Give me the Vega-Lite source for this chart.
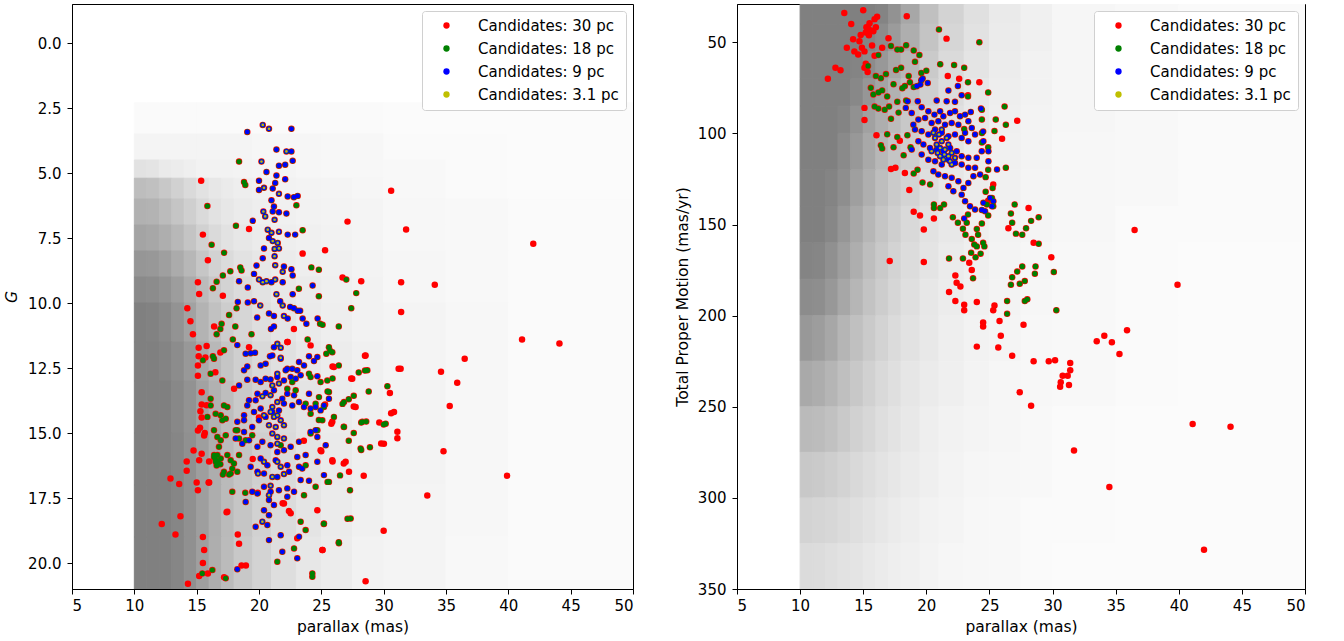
{
  "$schema": "https://vega.github.io/schema/vega-lite/v6.json",
  "padding": {"left": 4, "top": 3, "right": 0, "bottom": 0},
  "spacing": 40,
  "config": {
    "font": "DejaVu Sans",
    "view": {"stroke": "#000000", "strokeWidth": 1},
    "axis": {
      "grid": false,
      "labelFont": "DejaVu Sans",
      "titleFont": "DejaVu Sans",
      "labelFontSize": 15,
      "titleFontSize": 15.5,
      "titleFontWeight": "normal",
      "labelColor": "#000000",
      "titleColor": "#000000",
      "tickColor": "#000000",
      "domainColor": "#000000",
      "tickSize": 5,
      "labelPadding": 6
    },
    "axisX": {"labelPadding": 4, "titlePadding": 6},
    "axisY": {"titlePadding": 8},
    "legend": {"labelFont": "DejaVu Sans"}
  },
  "resolve": {"scale": {"color": "independent"}, "legend": {"color": "independent"}},
  "datasets": {
    "gbg": [
      {"p":10,"p2":11,"g":2.3,"g2":3.5,"v":0.04},{"p":11,"p2":12,"g":2.3,"g2":3.5,"v":0.04},{"p":12,"p2":13,"g":2.3,"g2":3.5,"v":0.04},{"p":13,"p2":14,"g":2.3,"g2":3.5,"v":0.04},{"p":14,"p2":15,"g":2.3,"g2":3.5,"v":0.04},{"p":15,"p2":16,"g":2.3,"g2":3.5,"v":0.04},{"p":16,"p2":17,"g":2.3,"g2":3.5,"v":0.04},{"p":17,"p2":18,"g":2.3,"g2":3.5,"v":0.04},{"p":18,"p2":19.5,"g":2.3,"g2":3.5,"v":0.04},{"p":19.5,"p2":21,"g":2.3,"g2":3.5,"v":0.04},{"p":21,"p2":23,"g":2.3,"g2":3.5,"v":0.04},{"p":23,"p2":25,"g":2.3,"g2":3.5,"v":0.04},{"p":25,"p2":27.5,"g":2.3,"g2":3.5,"v":0.04},{"p":27.5,"p2":30,"g":2.3,"g2":3.5,"v":0.04},{"p":30,"p2":35,"g":2.3,"g2":3.5,"v":0.03},{"p":35,"p2":40,"g":2.3,"g2":3.5,"v":0.03},{"p":40,"p2":50,"g":2.3,"g2":3.5,"v":0.03},
      {"p":10,"p2":11,"g":3.5,"g2":4.5,"v":0.08},{"p":11,"p2":12,"g":3.5,"g2":4.5,"v":0.08},{"p":12,"p2":13,"g":3.5,"g2":4.5,"v":0.08},{"p":13,"p2":14,"g":3.5,"g2":4.5,"v":0.08},{"p":14,"p2":15,"g":3.5,"g2":4.5,"v":0.08},{"p":15,"p2":16,"g":3.5,"g2":4.5,"v":0.08},{"p":16,"p2":17,"g":3.5,"g2":4.5,"v":0.08},{"p":17,"p2":18,"g":3.5,"g2":4.5,"v":0.08},{"p":18,"p2":19.5,"g":3.5,"g2":4.5,"v":0.08},{"p":19.5,"p2":21,"g":3.5,"g2":4.5,"v":0.07},{"p":21,"p2":23,"g":3.5,"g2":4.5,"v":0.07},{"p":23,"p2":25,"g":3.5,"g2":4.5,"v":0.07},{"p":25,"p2":27.5,"g":3.5,"g2":4.5,"v":0.06},{"p":27.5,"p2":30,"g":3.5,"g2":4.5,"v":0.06},{"p":30,"p2":35,"g":3.5,"g2":4.5,"v":0.04},{"p":35,"p2":40,"g":3.5,"g2":4.5,"v":0.04},{"p":40,"p2":50,"g":3.5,"g2":4.5,"v":0.03},
      {"p":10,"p2":11,"g":4.5,"g2":5.2,"v":0.22},{"p":11,"p2":12,"g":4.5,"g2":5.2,"v":0.2},{"p":12,"p2":13,"g":4.5,"g2":5.2,"v":0.16},{"p":13,"p2":14,"g":4.5,"g2":5.2,"v":0.14},{"p":14,"p2":15,"g":4.5,"g2":5.2,"v":0.12},{"p":15,"p2":16,"g":4.5,"g2":5.2,"v":0.1},{"p":16,"p2":17,"g":4.5,"g2":5.2,"v":0.1},{"p":17,"p2":18,"g":4.5,"g2":5.2,"v":0.1},{"p":18,"p2":19.5,"g":4.5,"g2":5.2,"v":0.09},{"p":19.5,"p2":21,"g":4.5,"g2":5.2,"v":0.08},{"p":21,"p2":23,"g":4.5,"g2":5.2,"v":0.08},{"p":23,"p2":25,"g":4.5,"g2":5.2,"v":0.07},{"p":25,"p2":27.5,"g":4.5,"g2":5.2,"v":0.06},{"p":27.5,"p2":30,"g":4.5,"g2":5.2,"v":0.06},{"p":30,"p2":35,"g":4.5,"g2":5.2,"v":0.05},{"p":35,"p2":40,"g":4.5,"g2":5.2,"v":0.04},{"p":40,"p2":50,"g":4.5,"g2":5.2,"v":0.03},
      {"p":10,"p2":11,"g":5.2,"g2":6,"v":0.5},{"p":11,"p2":12,"g":5.2,"g2":6,"v":0.48},{"p":12,"p2":13,"g":5.2,"g2":6,"v":0.42},{"p":13,"p2":14,"g":5.2,"g2":6,"v":0.35},{"p":14,"p2":15,"g":5.2,"g2":6,"v":0.28},{"p":15,"p2":16,"g":5.2,"g2":6,"v":0.22},{"p":16,"p2":17,"g":5.2,"g2":6,"v":0.18},{"p":17,"p2":18,"g":5.2,"g2":6,"v":0.15},{"p":18,"p2":19.5,"g":5.2,"g2":6,"v":0.13},{"p":19.5,"p2":21,"g":5.2,"g2":6,"v":0.11},{"p":21,"p2":23,"g":5.2,"g2":6,"v":0.1},{"p":23,"p2":25,"g":5.2,"g2":6,"v":0.09},{"p":25,"p2":27.5,"g":5.2,"g2":6,"v":0.08},{"p":27.5,"p2":30,"g":5.2,"g2":6,"v":0.07},{"p":30,"p2":35,"g":5.2,"g2":6,"v":0.05},{"p":35,"p2":40,"g":5.2,"g2":6,"v":0.04},{"p":40,"p2":50,"g":5.2,"g2":6,"v":0.03},
      {"p":10,"p2":11,"g":6,"g2":7,"v":0.6},{"p":11,"p2":12,"g":6,"g2":7,"v":0.58},{"p":12,"p2":13,"g":6,"g2":7,"v":0.52},{"p":13,"p2":14,"g":6,"g2":7,"v":0.44},{"p":14,"p2":15,"g":6,"g2":7,"v":0.36},{"p":15,"p2":16,"g":6,"g2":7,"v":0.28},{"p":16,"p2":17,"g":6,"g2":7,"v":0.22},{"p":17,"p2":18,"g":6,"g2":7,"v":0.18},{"p":18,"p2":19.5,"g":6,"g2":7,"v":0.15},{"p":19.5,"p2":21,"g":6,"g2":7,"v":0.13},{"p":21,"p2":23,"g":6,"g2":7,"v":0.11},{"p":23,"p2":25,"g":6,"g2":7,"v":0.1},{"p":25,"p2":27.5,"g":6,"g2":7,"v":0.09},{"p":27.5,"p2":30,"g":6,"g2":7,"v":0.08},{"p":30,"p2":35,"g":6,"g2":7,"v":0.06},{"p":35,"p2":40,"g":6,"g2":7,"v":0.05},{"p":40,"p2":50,"g":6,"g2":7,"v":0.04},
      {"p":10,"p2":11,"g":7,"g2":8,"v":0.7},{"p":11,"p2":12,"g":7,"g2":8,"v":0.68},{"p":12,"p2":13,"g":7,"g2":8,"v":0.62},{"p":13,"p2":14,"g":7,"g2":8,"v":0.54},{"p":14,"p2":15,"g":7,"g2":8,"v":0.45},{"p":15,"p2":16,"g":7,"g2":8,"v":0.35},{"p":16,"p2":17,"g":7,"g2":8,"v":0.28},{"p":17,"p2":18,"g":7,"g2":8,"v":0.22},{"p":18,"p2":19.5,"g":7,"g2":8,"v":0.18},{"p":19.5,"p2":21,"g":7,"g2":8,"v":0.15},{"p":21,"p2":23,"g":7,"g2":8,"v":0.13},{"p":23,"p2":25,"g":7,"g2":8,"v":0.11},{"p":25,"p2":27.5,"g":7,"g2":8,"v":0.1},{"p":27.5,"p2":30,"g":7,"g2":8,"v":0.08},{"p":30,"p2":35,"g":7,"g2":8,"v":0.06},{"p":35,"p2":40,"g":7,"g2":8,"v":0.05},{"p":40,"p2":50,"g":7,"g2":8,"v":0.04},
      {"p":10,"p2":11,"g":8,"g2":9,"v":0.82},{"p":11,"p2":12,"g":8,"g2":9,"v":0.8},{"p":12,"p2":13,"g":8,"g2":9,"v":0.74},{"p":13,"p2":14,"g":8,"g2":9,"v":0.65},{"p":14,"p2":15,"g":8,"g2":9,"v":0.55},{"p":15,"p2":16,"g":8,"g2":9,"v":0.43},{"p":16,"p2":17,"g":8,"g2":9,"v":0.34},{"p":17,"p2":18,"g":8,"g2":9,"v":0.27},{"p":18,"p2":19.5,"g":8,"g2":9,"v":0.22},{"p":19.5,"p2":21,"g":8,"g2":9,"v":0.18},{"p":21,"p2":23,"g":8,"g2":9,"v":0.15},{"p":23,"p2":25,"g":8,"g2":9,"v":0.13},{"p":25,"p2":27.5,"g":8,"g2":9,"v":0.11},{"p":27.5,"p2":30,"g":8,"g2":9,"v":0.09},{"p":30,"p2":35,"g":8,"g2":9,"v":0.07},{"p":35,"p2":40,"g":8,"g2":9,"v":0.05},{"p":40,"p2":50,"g":8,"g2":9,"v":0.04},
      {"p":10,"p2":11,"g":9,"g2":10,"v":0.92},{"p":11,"p2":12,"g":9,"g2":10,"v":0.9},{"p":12,"p2":13,"g":9,"g2":10,"v":0.85},{"p":13,"p2":14,"g":9,"g2":10,"v":0.76},{"p":14,"p2":15,"g":9,"g2":10,"v":0.65},{"p":15,"p2":16,"g":9,"g2":10,"v":0.52},{"p":16,"p2":17,"g":9,"g2":10,"v":0.42},{"p":17,"p2":18,"g":9,"g2":10,"v":0.33},{"p":18,"p2":19.5,"g":9,"g2":10,"v":0.27},{"p":19.5,"p2":21,"g":9,"g2":10,"v":0.22},{"p":21,"p2":23,"g":9,"g2":10,"v":0.18},{"p":23,"p2":25,"g":9,"g2":10,"v":0.15},{"p":25,"p2":27.5,"g":9,"g2":10,"v":0.12},{"p":27.5,"p2":30,"g":9,"g2":10,"v":0.1},{"p":30,"p2":35,"g":9,"g2":10,"v":0.07},{"p":35,"p2":40,"g":9,"g2":10,"v":0.05},{"p":40,"p2":50,"g":9,"g2":10,"v":0.04},
      {"p":10,"p2":11,"g":10,"g2":11.5,"v":1},{"p":11,"p2":12,"g":10,"g2":11.5,"v":0.98},{"p":12,"p2":13,"g":10,"g2":11.5,"v":0.93},{"p":13,"p2":14,"g":10,"g2":11.5,"v":0.84},{"p":14,"p2":15,"g":10,"g2":11.5,"v":0.72},{"p":15,"p2":16,"g":10,"g2":11.5,"v":0.58},{"p":16,"p2":17,"g":10,"g2":11.5,"v":0.47},{"p":17,"p2":18,"g":10,"g2":11.5,"v":0.38},{"p":18,"p2":19.5,"g":10,"g2":11.5,"v":0.31},{"p":19.5,"p2":21,"g":10,"g2":11.5,"v":0.25},{"p":21,"p2":23,"g":10,"g2":11.5,"v":0.2},{"p":23,"p2":25,"g":10,"g2":11.5,"v":0.16},{"p":25,"p2":27.5,"g":10,"g2":11.5,"v":0.13},{"p":27.5,"p2":30,"g":10,"g2":11.5,"v":0.1},{"p":30,"p2":35,"g":10,"g2":11.5,"v":0.08},{"p":35,"p2":40,"g":10,"g2":11.5,"v":0.06},{"p":40,"p2":50,"g":10,"g2":11.5,"v":0.04},
      {"p":10,"p2":11,"g":11.5,"g2":13,"v":1},{"p":11,"p2":12,"g":11.5,"g2":13,"v":1},{"p":12,"p2":13,"g":11.5,"g2":13,"v":0.97},{"p":13,"p2":14,"g":11.5,"g2":13,"v":0.9},{"p":14,"p2":15,"g":11.5,"g2":13,"v":0.8},{"p":15,"p2":16,"g":11.5,"g2":13,"v":0.66},{"p":16,"p2":17,"g":11.5,"g2":13,"v":0.54},{"p":17,"p2":18,"g":11.5,"g2":13,"v":0.44},{"p":18,"p2":19.5,"g":11.5,"g2":13,"v":0.36},{"p":19.5,"p2":21,"g":11.5,"g2":13,"v":0.29},{"p":21,"p2":23,"g":11.5,"g2":13,"v":0.23},{"p":23,"p2":25,"g":11.5,"g2":13,"v":0.18},{"p":25,"p2":27.5,"g":11.5,"g2":13,"v":0.14},{"p":27.5,"p2":30,"g":11.5,"g2":13,"v":0.11},{"p":30,"p2":35,"g":11.5,"g2":13,"v":0.08},{"p":35,"p2":40,"g":11.5,"g2":13,"v":0.06},{"p":40,"p2":50,"g":11.5,"g2":13,"v":0.04},
      {"p":10,"p2":11,"g":13,"g2":15,"v":1},{"p":11,"p2":12,"g":13,"g2":15,"v":1},{"p":12,"p2":13,"g":13,"g2":15,"v":1},{"p":13,"p2":14,"g":13,"g2":15,"v":0.93},{"p":14,"p2":15,"g":13,"g2":15,"v":0.85},{"p":15,"p2":16,"g":13,"g2":15,"v":0.72},{"p":16,"p2":17,"g":13,"g2":15,"v":0.6},{"p":17,"p2":18,"g":13,"g2":15,"v":0.5},{"p":18,"p2":19.5,"g":13,"g2":15,"v":0.41},{"p":19.5,"p2":21,"g":13,"g2":15,"v":0.33},{"p":21,"p2":23,"g":13,"g2":15,"v":0.26},{"p":23,"p2":25,"g":13,"g2":15,"v":0.2},{"p":25,"p2":27.5,"g":13,"g2":15,"v":0.15},{"p":27.5,"p2":30,"g":13,"g2":15,"v":0.12},{"p":30,"p2":35,"g":13,"g2":15,"v":0.09},{"p":35,"p2":40,"g":13,"g2":15,"v":0.06},{"p":40,"p2":50,"g":13,"g2":15,"v":0.04},
      {"p":10,"p2":11,"g":15,"g2":17,"v":1},{"p":11,"p2":12,"g":15,"g2":17,"v":1},{"p":12,"p2":13,"g":15,"g2":17,"v":1},{"p":13,"p2":14,"g":15,"g2":17,"v":0.95},{"p":14,"p2":15,"g":15,"g2":17,"v":0.87},{"p":15,"p2":16,"g":15,"g2":17,"v":0.75},{"p":16,"p2":17,"g":15,"g2":17,"v":0.63},{"p":17,"p2":18,"g":15,"g2":17,"v":0.53},{"p":18,"p2":19.5,"g":15,"g2":17,"v":0.44},{"p":19.5,"p2":21,"g":15,"g2":17,"v":0.36},{"p":21,"p2":23,"g":15,"g2":17,"v":0.28},{"p":23,"p2":25,"g":15,"g2":17,"v":0.21},{"p":25,"p2":27.5,"g":15,"g2":17,"v":0.16},{"p":27.5,"p2":30,"g":15,"g2":17,"v":0.12},{"p":30,"p2":35,"g":15,"g2":17,"v":0.09},{"p":35,"p2":40,"g":15,"g2":17,"v":0.06},{"p":40,"p2":50,"g":15,"g2":17,"v":0.04},
      {"p":10,"p2":11,"g":17,"g2":19,"v":1},{"p":11,"p2":12,"g":17,"g2":19,"v":1},{"p":12,"p2":13,"g":17,"g2":19,"v":1},{"p":13,"p2":14,"g":17,"g2":19,"v":0.95},{"p":14,"p2":15,"g":17,"g2":19,"v":0.87},{"p":15,"p2":16,"g":17,"g2":19,"v":0.75},{"p":16,"p2":17,"g":17,"g2":19,"v":0.63},{"p":17,"p2":18,"g":17,"g2":19,"v":0.53},{"p":18,"p2":19.5,"g":17,"g2":19,"v":0.44},{"p":19.5,"p2":21,"g":17,"g2":19,"v":0.35},{"p":21,"p2":23,"g":17,"g2":19,"v":0.27},{"p":23,"p2":25,"g":17,"g2":19,"v":0.2},{"p":25,"p2":27.5,"g":17,"g2":19,"v":0.15},{"p":27.5,"p2":30,"g":17,"g2":19,"v":0.11},{"p":30,"p2":35,"g":17,"g2":19,"v":0.08},{"p":35,"p2":40,"g":17,"g2":19,"v":0.06},{"p":40,"p2":50,"g":17,"g2":19,"v":0.04},
      {"p":10,"p2":11,"g":19,"g2":21,"v":1},{"p":11,"p2":12,"g":19,"g2":21,"v":1},{"p":12,"p2":13,"g":19,"g2":21,"v":1},{"p":13,"p2":14,"g":19,"g2":21,"v":0.95},{"p":14,"p2":15,"g":19,"g2":21,"v":0.87},{"p":15,"p2":16,"g":19,"g2":21,"v":0.74},{"p":16,"p2":17,"g":19,"g2":21,"v":0.62},{"p":17,"p2":18,"g":19,"g2":21,"v":0.52},{"p":18,"p2":19.5,"g":19,"g2":21,"v":0.42},{"p":19.5,"p2":21,"g":19,"g2":21,"v":0.33},{"p":21,"p2":23,"g":19,"g2":21,"v":0.25},{"p":23,"p2":25,"g":19,"g2":21,"v":0.18},{"p":25,"p2":27.5,"g":19,"g2":21,"v":0.14},{"p":27.5,"p2":30,"g":19,"g2":21,"v":0.1},{"p":30,"p2":35,"g":19,"g2":21,"v":0.08},{"p":35,"p2":40,"g":19,"g2":21,"v":0.05},{"p":40,"p2":50,"g":19,"g2":21,"v":0.04}
    ],
    "mbg": [
      {"p":10,"p2":11,"m":29,"m2":40,"v":1},{"p":11,"p2":12,"m":29,"m2":40,"v":1},{"p":12,"p2":13,"m":29,"m2":40,"v":1},{"p":13,"p2":14,"m":29,"m2":40,"v":1},{"p":14,"p2":15,"m":29,"m2":40,"v":1},{"p":15,"p2":16,"m":29,"m2":40,"v":1},{"p":16,"p2":17,"m":29,"m2":40,"v":0.97},{"p":17,"p2":18,"m":29,"m2":40,"v":0.85},{"p":18,"p2":19.5,"m":29,"m2":40,"v":0.68},{"p":19.5,"p2":21,"m":29,"m2":40,"v":0.48},{"p":21,"p2":23,"m":29,"m2":40,"v":0.33},{"p":23,"p2":25,"m":29,"m2":40,"v":0.23},{"p":25,"p2":27.5,"m":29,"m2":40,"v":0.16},{"p":27.5,"p2":30,"m":29,"m2":40,"v":0.11},{"p":30,"p2":35,"m":29,"m2":40,"v":0.07},{"p":35,"p2":40,"m":29,"m2":40,"v":0.05},{"p":40,"p2":50,"m":29,"m2":40,"v":0.04},
      {"p":10,"p2":11,"m":40,"m2":55,"v":1},{"p":11,"p2":12,"m":40,"m2":55,"v":1},{"p":12,"p2":13,"m":40,"m2":55,"v":1},{"p":13,"p2":14,"m":40,"m2":55,"v":1},{"p":14,"p2":15,"m":40,"m2":55,"v":1},{"p":15,"p2":16,"m":40,"m2":55,"v":0.97},{"p":16,"p2":17,"m":40,"m2":55,"v":0.9},{"p":17,"p2":18,"m":40,"m2":55,"v":0.78},{"p":18,"p2":19.5,"m":40,"m2":55,"v":0.62},{"p":19.5,"p2":21,"m":40,"m2":55,"v":0.45},{"p":21,"p2":23,"m":40,"m2":55,"v":0.31},{"p":23,"p2":25,"m":40,"m2":55,"v":0.22},{"p":25,"p2":27.5,"m":40,"m2":55,"v":0.15},{"p":27.5,"p2":30,"m":40,"m2":55,"v":0.11},{"p":30,"p2":35,"m":40,"m2":55,"v":0.07},{"p":35,"p2":40,"m":40,"m2":55,"v":0.05},{"p":40,"p2":50,"m":40,"m2":55,"v":0.04},
      {"p":10,"p2":11,"m":55,"m2":70,"v":1},{"p":11,"p2":12,"m":55,"m2":70,"v":1},{"p":12,"p2":13,"m":55,"m2":70,"v":1},{"p":13,"p2":14,"m":55,"m2":70,"v":1},{"p":14,"p2":15,"m":55,"m2":70,"v":0.97},{"p":15,"p2":16,"m":55,"m2":70,"v":0.9},{"p":16,"p2":17,"m":55,"m2":70,"v":0.8},{"p":17,"p2":18,"m":55,"m2":70,"v":0.68},{"p":18,"p2":19.5,"m":55,"m2":70,"v":0.55},{"p":19.5,"p2":21,"m":55,"m2":70,"v":0.4},{"p":21,"p2":23,"m":55,"m2":70,"v":0.28},{"p":23,"p2":25,"m":55,"m2":70,"v":0.2},{"p":25,"p2":27.5,"m":55,"m2":70,"v":0.14},{"p":27.5,"p2":30,"m":55,"m2":70,"v":0.1},{"p":30,"p2":35,"m":55,"m2":70,"v":0.07},{"p":35,"p2":40,"m":55,"m2":70,"v":0.05},{"p":40,"p2":50,"m":55,"m2":70,"v":0.04},
      {"p":10,"p2":11,"m":70,"m2":85,"v":1},{"p":11,"p2":12,"m":70,"m2":85,"v":1},{"p":12,"p2":13,"m":70,"m2":85,"v":1},{"p":13,"p2":14,"m":70,"m2":85,"v":1},{"p":14,"p2":15,"m":70,"m2":85,"v":0.93},{"p":15,"p2":16,"m":70,"m2":85,"v":0.82},{"p":16,"p2":17,"m":70,"m2":85,"v":0.7},{"p":17,"p2":18,"m":70,"m2":85,"v":0.6},{"p":18,"p2":19.5,"m":70,"m2":85,"v":0.48},{"p":19.5,"p2":21,"m":70,"m2":85,"v":0.36},{"p":21,"p2":23,"m":70,"m2":85,"v":0.26},{"p":23,"p2":25,"m":70,"m2":85,"v":0.18},{"p":25,"p2":27.5,"m":70,"m2":85,"v":0.13},{"p":27.5,"p2":30,"m":70,"m2":85,"v":0.1},{"p":30,"p2":35,"m":70,"m2":85,"v":0.07},{"p":35,"p2":40,"m":70,"m2":85,"v":0.05},{"p":40,"p2":50,"m":70,"m2":85,"v":0.04},
      {"p":10,"p2":11,"m":85,"m2":100,"v":1},{"p":11,"p2":12,"m":85,"m2":100,"v":1},{"p":12,"p2":13,"m":85,"m2":100,"v":1},{"p":13,"p2":14,"m":85,"m2":100,"v":0.97},{"p":14,"p2":15,"m":85,"m2":100,"v":0.86},{"p":15,"p2":16,"m":85,"m2":100,"v":0.73},{"p":16,"p2":17,"m":85,"m2":100,"v":0.62},{"p":17,"p2":18,"m":85,"m2":100,"v":0.52},{"p":18,"p2":19.5,"m":85,"m2":100,"v":0.42},{"p":19.5,"p2":21,"m":85,"m2":100,"v":0.32},{"p":21,"p2":23,"m":85,"m2":100,"v":0.23},{"p":23,"p2":25,"m":85,"m2":100,"v":0.17},{"p":25,"p2":27.5,"m":85,"m2":100,"v":0.12},{"p":27.5,"p2":30,"m":85,"m2":100,"v":0.09},{"p":30,"p2":35,"m":85,"m2":100,"v":0.07},{"p":35,"p2":40,"m":85,"m2":100,"v":0.05},{"p":40,"p2":50,"m":85,"m2":100,"v":0.04},
      {"p":10,"p2":11,"m":100,"m2":120,"v":1},{"p":11,"p2":12,"m":100,"m2":120,"v":1},{"p":12,"p2":13,"m":100,"m2":120,"v":1},{"p":13,"p2":14,"m":100,"m2":120,"v":0.92},{"p":14,"p2":15,"m":100,"m2":120,"v":0.8},{"p":15,"p2":16,"m":100,"m2":120,"v":0.67},{"p":16,"p2":17,"m":100,"m2":120,"v":0.55},{"p":17,"p2":18,"m":100,"m2":120,"v":0.45},{"p":18,"p2":19.5,"m":100,"m2":120,"v":0.37},{"p":19.5,"p2":21,"m":100,"m2":120,"v":0.28},{"p":21,"p2":23,"m":100,"m2":120,"v":0.21},{"p":23,"p2":25,"m":100,"m2":120,"v":0.15},{"p":25,"p2":27.5,"m":100,"m2":120,"v":0.11},{"p":27.5,"p2":30,"m":100,"m2":120,"v":0.09},{"p":30,"p2":35,"m":100,"m2":120,"v":0.06},{"p":35,"p2":40,"m":100,"m2":120,"v":0.05},{"p":40,"p2":50,"m":100,"m2":120,"v":0.04},
      {"p":10,"p2":11,"m":120,"m2":140,"v":1},{"p":11,"p2":12,"m":120,"m2":140,"v":1},{"p":12,"p2":13,"m":120,"m2":140,"v":0.97},{"p":13,"p2":14,"m":120,"m2":140,"v":0.88},{"p":14,"p2":15,"m":120,"m2":140,"v":0.74},{"p":15,"p2":16,"m":120,"m2":140,"v":0.62},{"p":16,"p2":17,"m":120,"m2":140,"v":0.5},{"p":17,"p2":18,"m":120,"m2":140,"v":0.41},{"p":18,"p2":19.5,"m":120,"m2":140,"v":0.33},{"p":19.5,"p2":21,"m":120,"m2":140,"v":0.25},{"p":21,"p2":23,"m":120,"m2":140,"v":0.19},{"p":23,"p2":25,"m":120,"m2":140,"v":0.14},{"p":25,"p2":27.5,"m":120,"m2":140,"v":0.11},{"p":27.5,"p2":30,"m":120,"m2":140,"v":0.08},{"p":30,"p2":35,"m":120,"m2":140,"v":0.06},{"p":35,"p2":40,"m":120,"m2":140,"v":0.05},{"p":40,"p2":50,"m":120,"m2":140,"v":0.04},
      {"p":10,"p2":11,"m":140,"m2":160,"v":1},{"p":11,"p2":12,"m":140,"m2":160,"v":1},{"p":12,"p2":13,"m":140,"m2":160,"v":0.94},{"p":13,"p2":14,"m":140,"m2":160,"v":0.82},{"p":14,"p2":15,"m":140,"m2":160,"v":0.68},{"p":15,"p2":16,"m":140,"m2":160,"v":0.56},{"p":16,"p2":17,"m":140,"m2":160,"v":0.45},{"p":17,"p2":18,"m":140,"m2":160,"v":0.37},{"p":18,"p2":19.5,"m":140,"m2":160,"v":0.29},{"p":19.5,"p2":21,"m":140,"m2":160,"v":0.22},{"p":21,"p2":23,"m":140,"m2":160,"v":0.17},{"p":23,"p2":25,"m":140,"m2":160,"v":0.13},{"p":25,"p2":27.5,"m":140,"m2":160,"v":0.1},{"p":27.5,"p2":30,"m":140,"m2":160,"v":0.08},{"p":30,"p2":35,"m":140,"m2":160,"v":0.06},{"p":35,"p2":40,"m":140,"m2":160,"v":0.04},{"p":40,"p2":50,"m":140,"m2":160,"v":0.04},
      {"p":10,"p2":11,"m":160,"m2":180,"v":0.97},{"p":11,"p2":12,"m":160,"m2":180,"v":0.95},{"p":12,"p2":13,"m":160,"m2":180,"v":0.87},{"p":13,"p2":14,"m":160,"m2":180,"v":0.75},{"p":14,"p2":15,"m":160,"m2":180,"v":0.62},{"p":15,"p2":16,"m":160,"m2":180,"v":0.5},{"p":16,"p2":17,"m":160,"m2":180,"v":0.41},{"p":17,"p2":18,"m":160,"m2":180,"v":0.33},{"p":18,"p2":19.5,"m":160,"m2":180,"v":0.26},{"p":19.5,"p2":21,"m":160,"m2":180,"v":0.2},{"p":21,"p2":23,"m":160,"m2":180,"v":0.15},{"p":23,"p2":25,"m":160,"m2":180,"v":0.12},{"p":25,"p2":27.5,"m":160,"m2":180,"v":0.09},{"p":27.5,"p2":30,"m":160,"m2":180,"v":0.07},{"p":30,"p2":35,"m":160,"m2":180,"v":0.05},{"p":35,"p2":40,"m":160,"m2":180,"v":0.04},{"p":40,"p2":50,"m":160,"m2":180,"v":0.03},
      {"p":10,"p2":11,"m":180,"m2":200,"v":0.9},{"p":11,"p2":12,"m":180,"m2":200,"v":0.88},{"p":12,"p2":13,"m":180,"m2":200,"v":0.8},{"p":13,"p2":14,"m":180,"m2":200,"v":0.68},{"p":14,"p2":15,"m":180,"m2":200,"v":0.56},{"p":15,"p2":16,"m":180,"m2":200,"v":0.46},{"p":16,"p2":17,"m":180,"m2":200,"v":0.38},{"p":17,"p2":18,"m":180,"m2":200,"v":0.31},{"p":18,"p2":19.5,"m":180,"m2":200,"v":0.24},{"p":19.5,"p2":21,"m":180,"m2":200,"v":0.18},{"p":21,"p2":23,"m":180,"m2":200,"v":0.14},{"p":23,"p2":25,"m":180,"m2":200,"v":0.11},{"p":25,"p2":27.5,"m":180,"m2":200,"v":0.09},{"p":27.5,"p2":30,"m":180,"m2":200,"v":0.07},{"p":30,"p2":35,"m":180,"m2":200,"v":0.05},{"p":35,"p2":40,"m":180,"m2":200,"v":0.04},{"p":40,"p2":50,"m":180,"m2":200,"v":0.03},
      {"p":10,"p2":11,"m":200,"m2":225,"v":0.8},{"p":11,"p2":12,"m":200,"m2":225,"v":0.76},{"p":12,"p2":13,"m":200,"m2":225,"v":0.68},{"p":13,"p2":14,"m":200,"m2":225,"v":0.57},{"p":14,"p2":15,"m":200,"m2":225,"v":0.48},{"p":15,"p2":16,"m":200,"m2":225,"v":0.4},{"p":16,"p2":17,"m":200,"m2":225,"v":0.33},{"p":17,"p2":18,"m":200,"m2":225,"v":0.27},{"p":18,"p2":19.5,"m":200,"m2":225,"v":0.22},{"p":19.5,"p2":21,"m":200,"m2":225,"v":0.17},{"p":21,"p2":23,"m":200,"m2":225,"v":0.13},{"p":23,"p2":25,"m":200,"m2":225,"v":0.1},{"p":25,"p2":27.5,"m":200,"m2":225,"v":0.08},{"p":27.5,"p2":30,"m":200,"m2":225,"v":0.06},{"p":30,"p2":35,"m":200,"m2":225,"v":0.05},{"p":35,"p2":40,"m":200,"m2":225,"v":0.04},{"p":40,"p2":50,"m":200,"m2":225,"v":0.03},
      {"p":10,"p2":11,"m":225,"m2":250,"v":0.66},{"p":11,"p2":12,"m":225,"m2":250,"v":0.63},{"p":12,"p2":13,"m":225,"m2":250,"v":0.57},{"p":13,"p2":14,"m":225,"m2":250,"v":0.49},{"p":14,"p2":15,"m":225,"m2":250,"v":0.42},{"p":15,"p2":16,"m":225,"m2":250,"v":0.35},{"p":16,"p2":17,"m":225,"m2":250,"v":0.29},{"p":17,"p2":18,"m":225,"m2":250,"v":0.24},{"p":18,"p2":19.5,"m":225,"m2":250,"v":0.19},{"p":19.5,"p2":21,"m":225,"m2":250,"v":0.15},{"p":21,"p2":23,"m":225,"m2":250,"v":0.12},{"p":23,"p2":25,"m":225,"m2":250,"v":0.09},{"p":25,"p2":27.5,"m":225,"m2":250,"v":0.07},{"p":27.5,"p2":30,"m":225,"m2":250,"v":0.06},{"p":30,"p2":35,"m":225,"m2":250,"v":0.05},{"p":35,"p2":40,"m":225,"m2":250,"v":0.04},{"p":40,"p2":50,"m":225,"m2":250,"v":0.03},
      {"p":10,"p2":11,"m":250,"m2":275,"v":0.53},{"p":11,"p2":12,"m":250,"m2":275,"v":0.51},{"p":12,"p2":13,"m":250,"m2":275,"v":0.47},{"p":13,"p2":14,"m":250,"m2":275,"v":0.41},{"p":14,"p2":15,"m":250,"m2":275,"v":0.35},{"p":15,"p2":16,"m":250,"m2":275,"v":0.3},{"p":16,"p2":17,"m":250,"m2":275,"v":0.25},{"p":17,"p2":18,"m":250,"m2":275,"v":0.21},{"p":18,"p2":19.5,"m":250,"m2":275,"v":0.17},{"p":19.5,"p2":21,"m":250,"m2":275,"v":0.13},{"p":21,"p2":23,"m":250,"m2":275,"v":0.1},{"p":23,"p2":25,"m":250,"m2":275,"v":0.08},{"p":25,"p2":27.5,"m":250,"m2":275,"v":0.07},{"p":27.5,"p2":30,"m":250,"m2":275,"v":0.05},{"p":30,"p2":35,"m":250,"m2":275,"v":0.04},{"p":35,"p2":40,"m":250,"m2":275,"v":0.03},{"p":40,"p2":50,"m":250,"m2":275,"v":0.03},
      {"p":10,"p2":11,"m":275,"m2":300,"v":0.42},{"p":11,"p2":12,"m":275,"m2":300,"v":0.4},{"p":12,"p2":13,"m":275,"m2":300,"v":0.37},{"p":13,"p2":14,"m":275,"m2":300,"v":0.33},{"p":14,"p2":15,"m":275,"m2":300,"v":0.29},{"p":15,"p2":16,"m":275,"m2":300,"v":0.25},{"p":16,"p2":17,"m":275,"m2":300,"v":0.21},{"p":17,"p2":18,"m":275,"m2":300,"v":0.18},{"p":18,"p2":19.5,"m":275,"m2":300,"v":0.15},{"p":19.5,"p2":21,"m":275,"m2":300,"v":0.12},{"p":21,"p2":23,"m":275,"m2":300,"v":0.09},{"p":23,"p2":25,"m":275,"m2":300,"v":0.07},{"p":25,"p2":27.5,"m":275,"m2":300,"v":0.06},{"p":27.5,"p2":30,"m":275,"m2":300,"v":0.05},{"p":30,"p2":35,"m":275,"m2":300,"v":0.04},{"p":35,"p2":40,"m":275,"m2":300,"v":0.03},{"p":40,"p2":50,"m":275,"m2":300,"v":0.03},
      {"p":10,"p2":11,"m":300,"m2":325,"v":0.33},{"p":11,"p2":12,"m":300,"m2":325,"v":0.32},{"p":12,"p2":13,"m":300,"m2":325,"v":0.3},{"p":13,"p2":14,"m":300,"m2":325,"v":0.27},{"p":14,"p2":15,"m":300,"m2":325,"v":0.24},{"p":15,"p2":16,"m":300,"m2":325,"v":0.21},{"p":16,"p2":17,"m":300,"m2":325,"v":0.18},{"p":17,"p2":18,"m":300,"m2":325,"v":0.15},{"p":18,"p2":19.5,"m":300,"m2":325,"v":0.13},{"p":19.5,"p2":21,"m":300,"m2":325,"v":0.1},{"p":21,"p2":23,"m":300,"m2":325,"v":0.08},{"p":23,"p2":25,"m":300,"m2":325,"v":0.06},{"p":25,"p2":27.5,"m":300,"m2":325,"v":0.05},{"p":27.5,"p2":30,"m":300,"m2":325,"v":0.04},{"p":30,"p2":35,"m":300,"m2":325,"v":0.04},{"p":35,"p2":40,"m":300,"m2":325,"v":0.03},{"p":40,"p2":50,"m":300,"m2":325,"v":0.03},
      {"p":10,"p2":11,"m":325,"m2":350,"v":0.27},{"p":11,"p2":12,"m":325,"m2":350,"v":0.26},{"p":12,"p2":13,"m":325,"m2":350,"v":0.24},{"p":13,"p2":14,"m":325,"m2":350,"v":0.22},{"p":14,"p2":15,"m":325,"m2":350,"v":0.2},{"p":15,"p2":16,"m":325,"m2":350,"v":0.17},{"p":16,"p2":17,"m":325,"m2":350,"v":0.15},{"p":17,"p2":18,"m":325,"m2":350,"v":0.13},{"p":18,"p2":19.5,"m":325,"m2":350,"v":0.11},{"p":19.5,"p2":21,"m":325,"m2":350,"v":0.09},{"p":21,"p2":23,"m":325,"m2":350,"v":0.07},{"p":23,"p2":25,"m":325,"m2":350,"v":0.06},{"p":25,"p2":27.5,"m":325,"m2":350,"v":0.05},{"p":27.5,"p2":30,"m":325,"m2":350,"v":0.04},{"p":30,"p2":35,"m":325,"m2":350,"v":0.03},{"p":35,"p2":40,"m":325,"m2":350,"v":0.03},{"p":40,"p2":50,"m":325,"m2":350,"v":0.03}
    ],
    "gstars": [
      {"p":15.36,"g":5.3,"d":30},{"p":15.5,"g":7.37,"d":30},{"p":15.9,"g":8.36,"d":30},{"p":19.2,"g":7.15,"d":30},{"p":23.5,"g":8.1,"d":30},{"p":25.3,"g":7.97,"d":30},{"p":27.1,"g":6.87,"d":30},{"p":30.6,"g":5.68,"d":30},{"p":31.8,"g":7.17,"d":30},{"p":42.0,"g":7.72,"d":30},
      {"p":15.1,"g":9.2,"d":30},{"p":15.2,"g":9.65,"d":30},{"p":14.25,"g":10.2,"d":30},{"p":14.5,"g":10.7,"d":30},{"p":14.7,"g":11.2,"d":30},{"p":17.1,"g":9.72,"d":30},{"p":16.4,"g":10.9,"d":30},{"p":26.7,"g":9.02,"d":30},{"p":28.2,"g":9.16,"d":30},{"p":31.4,"g":9.2,"d":30},
      {"p":34.1,"g":9.3,"d":30},{"p":31.4,"g":10.35,"d":30},{"p":41.1,"g":11.4,"d":30},{"p":44.1,"g":11.56,"d":30},{"p":36.5,"g":12.14,"d":30},{"p":34.6,"g":12.64,"d":30},{"p":35.9,"g":13.07,"d":30},{"p":35.3,"g":13.96,"d":30},{"p":31.2,"g":12.53,"d":30},{"p":30.5,"g":13.46,"d":30},
      {"p":30.6,"g":14.24,"d":30},{"p":29.65,"g":14.6,"d":30},{"p":31.1,"g":14.95,"d":30},{"p":31.1,"g":15.2,"d":30},{"p":29.8,"g":15.4,"d":30},{"p":34.8,"g":15.7,"d":30},{"p":39.9,"g":16.64,"d":30},{"p":33.5,"g":17.4,"d":30},{"p":30.0,"g":18.76,"d":30},{"p":28.55,"g":20.7,"d":30},
      {"p":28.5,"g":12.03,"d":30},{"p":27.4,"g":12.9,"d":30},{"p":25.9,"g":12.44,"d":30},{"p":22.3,"g":11.5,"d":30},{"p":22.8,"g":11.0,"d":30},{"p":27.6,"g":13.98,"d":30},{"p":25.3,"g":13.9,"d":30},{"p":25.8,"g":14.64,"d":30},{"p":25.9,"g":16.1,"d":30},{"p":26.8,"g":16.17,"d":30},
      {"p":28.4,"g":16.64,"d":30},{"p":25.1,"g":19.5,"d":30},{"p":25.0,"g":15.7,"d":30},{"p":15.16,"g":11.72,"d":30},{"p":15.16,"g":12.05,"d":30},{"p":15.1,"g":12.4,"d":30},{"p":15.1,"g":12.8,"d":30},{"p":15.7,"g":12.1,"d":30},{"p":15.8,"g":11.65,"d":30},{"p":15.4,"g":13.43,"d":30},
      {"p":15.4,"g":13.9,"d":30},{"p":15.3,"g":14.16,"d":30},{"p":15.4,"g":14.4,"d":30},{"p":15.1,"g":14.9,"d":30},{"p":15.6,"g":15.1,"d":30},{"p":14.75,"g":15.67,"d":30},{"p":15.4,"g":15.8,"d":30},{"p":15.2,"g":16.05,"d":30},{"p":14.2,"g":16.1,"d":30},{"p":14.2,"g":16.45,"d":30},
      {"p":12.9,"g":16.75,"d":30},{"p":13.6,"g":16.96,"d":30},{"p":12.2,"g":18.5,"d":30},{"p":13.3,"g":18.9,"d":30},{"p":13.7,"g":18.2,"d":30},{"p":15.0,"g":16.9,"d":30},{"p":15.1,"g":17.2,"d":30},{"p":16.0,"g":16.9,"d":30},{"p":15.5,"g":19.0,"d":30},{"p":15.6,"g":19.5,"d":30},
      {"p":15.5,"g":20.0,"d":30},{"p":15.2,"g":20.5,"d":30},{"p":14.3,"g":20.8,"d":30},{"p":15.9,"g":20.4,"d":30},{"p":17.2,"g":20.55,"d":30},{"p":17.4,"g":18.05,"d":30},{"p":18.3,"g":18.9,"d":30},{"p":18.4,"g":19.26,"d":30},{"p":18.6,"g":20.1,"d":30},{"p":18.95,"g":20.1,"d":30},
      {"p":16.0,"g":16.1,"d":30},{"p":19.2,"g":11.7,"d":30},{"p":22.27,"g":11.5,"d":30},{"p":24.14,"g":11.63,"d":30},{"p":28.55,"g":12.02,"d":30},{"p":31.36,"g":12.53,"d":30},{"p":26.01,"g":12.46,"d":30},{"p":27.48,"g":12.91,"d":30},{"p":27.75,"g":14.0,"d":30},{"p":25.88,"g":14.57,"d":30},
      {"p":30.83,"g":14.19,"d":30},{"p":30.02,"g":15.41,"d":30},{"p":26.95,"g":16.11,"d":30},{"p":25.88,"g":16.05,"d":30},{"p":22.54,"g":18.09,"d":30},{"p":17.46,"g":18.03,"d":30},{"p":22.0,"g":17.71,"d":30},{"p":23.07,"g":19.05,"d":30},{"p":25.08,"g":19.5,"d":30},{"p":27.22,"g":16.49,"d":30},
      {"p":24.94,"g":15.66,"d":30},{"p":24.68,"g":17.97,"d":30},{"p":16.5,"g":12.66,"d":30},{"p":15.8,"g":13.93,"d":30},{"p":15.27,"g":14.8,"d":30},{"p":15.65,"g":15.0,"d":30},{"p":15.96,"g":16.9,"d":30},{"p":20.0,"g":14.4,"d":30},{"p":19.9,"g":17.3,"d":30},{"p":21.9,"g":17.7,"d":30},
      {"p":22.4,"g":18.0,"d":30},{"p":16.9,"g":11.9,"d":30},{"p":18.0,"g":13.3,"d":30},{"p":19.5,"g":16.0,"d":30},{"p":23.6,"g":15.3,"d":30},
      {"p":15.86,"g":6.27,"d":18},{"p":16.2,"g":7.76,"d":18},{"p":18.4,"g":4.56,"d":18},{"p":18.8,"g":5.35,"d":18},{"p":18.9,"g":5.46,"d":18},{"p":23.0,"g":6.24,"d":18},{"p":18.15,"g":7.03,"d":18},{"p":17.2,"g":8.07,"d":18},{"p":18.5,"g":8.63,"d":18},{"p":18.6,"g":8.75,"d":18},
      {"p":17.7,"g":8.78,"d":18},{"p":16.6,"g":9.18,"d":18},{"p":17.1,"g":8.94,"d":18},{"p":16.3,"g":9.43,"d":18},{"p":17.6,"g":10.46,"d":18},{"p":18.2,"g":10.2,"d":18},{"p":18.1,"g":10.9,"d":18},{"p":17.0,"g":10.8,"d":18},{"p":24.2,"g":8.63,"d":18},{"p":24.8,"g":8.72,"d":18},
      {"p":23.2,"g":9.45,"d":18},{"p":24.8,"g":9.74,"d":18},{"p":24.9,"g":10.8,"d":18},{"p":25.1,"g":10.84,"d":18},{"p":26.4,"g":10.9,"d":18},{"p":27.4,"g":10.2,"d":18},{"p":27.0,"g":9.1,"d":18},{"p":27.8,"g":9.62,"d":18},{"p":25.7,"g":11.84,"d":18},{"p":25.4,"g":11.95,"d":18},
      {"p":26.4,"g":12.4,"d":18},{"p":25.9,"g":12.9,"d":18},{"p":28.5,"g":12.6,"d":18},{"p":28.0,"g":12.67,"d":18},{"p":28.8,"g":13.4,"d":18},{"p":30.3,"g":13.2,"d":18},{"p":27.2,"g":13.7,"d":18},{"p":27.6,"g":13.57,"d":18},{"p":26.7,"g":13.88,"d":18},{"p":25.5,"g":13.4,"d":18},
      {"p":24.8,"g":14.5,"d":18},{"p":28.6,"g":14.56,"d":18},{"p":28.2,"g":14.6,"d":18},{"p":30.0,"g":14.67,"d":18},{"p":26.8,"g":14.76,"d":18},{"p":27.2,"g":15.3,"d":18},{"p":27.6,"g":15.0,"d":18},{"p":28.2,"g":15.65,"d":18},{"p":28.9,"g":15.55,"d":18},{"p":26.5,"g":16.63,"d":18},
      {"p":25.5,"g":16.88,"d":18},{"p":27.3,"g":17.2,"d":18},{"p":27.1,"g":18.3,"d":18},{"p":25.2,"g":18.5,"d":18},{"p":26.4,"g":19.2,"d":18},{"p":15.5,"g":12.2,"d":18},{"p":16.3,"g":12.05,"d":18},{"p":17.9,"g":11.4,"d":18},{"p":16.6,"g":11.2,"d":18},{"p":16.9,"g":11.0,"d":18},
      {"p":16.5,"g":16.0,"d":18},{"p":16.7,"g":16.1,"d":18},{"p":16.9,"g":16.2,"d":18},{"p":16.6,"g":16.25,"d":18},{"p":16.4,"g":15.85,"d":18},{"p":17.1,"g":16.6,"d":18},{"p":17.6,"g":16.6,"d":18},{"p":17.19,"g":11.82,"d":18},{"p":16.39,"g":12.14,"d":18},{"p":16.12,"g":12.72,"d":18},
      {"p":17.06,"g":12.98,"d":18},{"p":16.12,"g":13.68,"d":18},{"p":16.12,"g":13.94,"d":18},{"p":17.19,"g":13.94,"d":18},{"p":17.46,"g":14.0,"d":18},{"p":16.52,"g":14.26,"d":18},{"p":16.93,"g":14.32,"d":18},{"p":17.06,"g":14.51,"d":18},{"p":17.33,"g":14.45,"d":18},{"p":15.86,"g":14.38,"d":18},
      {"p":16.39,"g":14.89,"d":18},{"p":16.66,"g":15.15,"d":18},{"p":16.93,"g":15.28,"d":18},{"p":17.33,"g":15.09,"d":18},{"p":16.79,"g":15.53,"d":18},{"p":16.39,"g":15.92,"d":18},{"p":16.66,"g":15.85,"d":18},{"p":16.93,"g":15.98,"d":18},{"p":16.52,"g":16.11,"d":18},{"p":17.46,"g":15.85,"d":18},
      {"p":17.73,"g":16.05,"d":18},{"p":18.4,"g":15.85,"d":18},{"p":17.86,"g":16.37,"d":18},{"p":17.19,"g":16.49,"d":18},{"p":17.73,"g":16.56,"d":18},{"p":18.26,"g":16.49,"d":18},{"p":17.99,"g":16.17,"d":18},{"p":18.13,"g":14.89,"d":18},{"p":18.4,"g":15.21,"d":18},{"p":25.61,"g":11.7,"d":18},
      {"p":25.88,"g":11.89,"d":18},{"p":24.01,"g":12.72,"d":18},{"p":24.14,"g":12.85,"d":18},{"p":24.94,"g":13.04,"d":18},{"p":25.48,"g":12.98,"d":18},{"p":25.61,"g":13.42,"d":18},{"p":24.81,"g":13.62,"d":18},{"p":24.54,"g":13.87,"d":18},{"p":24.14,"g":14.26,"d":18},{"p":25.08,"g":14.51,"d":18},
      {"p":26.01,"g":14.38,"d":18},{"p":26.82,"g":13.81,"d":18},{"p":28.69,"g":12.59,"d":18},{"p":28.29,"g":14.57,"d":18},{"p":26.82,"g":14.77,"d":18},{"p":28.15,"g":15.6,"d":18},{"p":30.16,"g":14.64,"d":18},{"p":25.61,"g":16.88,"d":18},{"p":24.54,"g":17.07,"d":18},{"p":23.74,"g":16.24,"d":18},
      {"p":23.61,"g":17.39,"d":18},{"p":24.68,"g":14.89,"d":18},{"p":24.14,"g":15.02,"d":18},{"p":25.21,"g":14.0,"d":18},{"p":23.74,"g":13.87,"d":18},{"p":22.94,"g":13.36,"d":18},{"p":22.27,"g":13.3,"d":18},{"p":22.67,"g":13.04,"d":18},{"p":21.74,"g":15.47,"d":18},{"p":19.46,"g":15.09,"d":18},
      {"p":18.93,"g":15.28,"d":18},{"p":18.26,"g":14.89,"d":18},{"p":27.35,"g":18.29,"d":18},{"p":25.21,"g":18.48,"d":18},{"p":23.34,"g":18.41,"d":18},{"p":23.74,"g":18.73,"d":18},{"p":26.41,"g":19.24,"d":18},{"p":22.81,"g":19.44,"d":18},{"p":21.47,"g":19.95,"d":18},{"p":24.28,"g":20.4,"d":18},
      {"p":24.28,"g":20.53,"d":18},{"p":17.33,"g":20.59,"d":18},{"p":16.26,"g":20.27,"d":18},{"p":15.45,"g":20.4,"d":18},{"p":17.86,"g":17.26,"d":18},{"p":18.9,"g":17.3,"d":18},{"p":23.5,"g":7.2,"d":18},{"p":19.4,"g":11.2,"d":18},{"p":23.9,"g":11.4,"d":18},
      {"p":19.06,"g":3.42,"d":9},{"p":22.6,"g":3.3,"d":9},{"p":21.4,"g":4.1,"d":9},{"p":22.6,"g":4.17,"d":9},{"p":22.7,"g":4.53,"d":9},{"p":21.6,"g":4.72,"d":9},{"p":22.1,"g":4.68,"d":9},{"p":20.6,"g":4.96,"d":9},{"p":20.0,"g":5.3,"d":9},{"p":20.0,"g":5.65,"d":9},
      {"p":21.1,"g":5.6,"d":9},{"p":21.4,"g":5.1,"d":9},{"p":21.3,"g":5.38,"d":9},{"p":22.1,"g":5.24,"d":9},{"p":22.3,"g":5.9,"d":9},{"p":22.8,"g":5.93,"d":9},{"p":23.1,"g":5.88,"d":9},{"p":21.0,"g":6.05,"d":9},{"p":21.2,"g":6.29,"d":9},{"p":21.1,"g":6.48,"d":9},
      {"p":21.6,"g":6.51,"d":9},{"p":22.2,"g":6.56,"d":9},{"p":19.5,"g":6.84,"d":9},{"p":20.8,"g":7.5,"d":9},{"p":22.3,"g":7.37,"d":9},{"p":22.9,"g":7.37,"d":9},{"p":20.4,"g":7.9,"d":9},{"p":20.3,"g":8.28,"d":9},{"p":18.4,"g":9.16,"d":9},{"p":19.1,"g":9.4,"d":9},
      {"p":19.6,"g":8.88,"d":9},{"p":19.8,"g":8.56,"d":9},{"p":21.0,"g":9.2,"d":9},{"p":21.9,"g":9.2,"d":9},{"p":22.7,"g":8.94,"d":9},{"p":24.3,"g":9.33,"d":9},{"p":22.7,"g":9.66,"d":9},{"p":19.1,"g":9.98,"d":9},{"p":19.6,"g":9.93,"d":9},{"p":18.3,"g":9.96,"d":9},
      {"p":19.85,"g":10.56,"d":9},{"p":21.7,"g":9.93,"d":9},{"p":22.5,"g":10.15,"d":9},{"p":22.8,"g":10.2,"d":9},{"p":23.1,"g":10.3,"d":9},{"p":23.3,"g":10.3,"d":9},{"p":20.8,"g":10.4,"d":9},{"p":21.2,"g":10.5,"d":9},{"p":21.2,"g":10.9,"d":9},{"p":20.96,"g":11.0,"d":9},
      {"p":22.3,"g":10.6,"d":9},{"p":23.5,"g":10.6,"d":9},{"p":23.8,"g":10.8,"d":9},{"p":24.7,"g":10.6,"d":9},{"p":22.0,"g":8.6,"d":9},{"p":22.6,"g":8.7,"d":9},
      {"p":18.26,"g":11.62,"d":9},{"p":18.93,"g":11.95,"d":9},{"p":19.33,"g":11.93,"d":9},{"p":19.68,"g":11.91,"d":9},{"p":20.13,"g":12.4,"d":9},{"p":20.53,"g":12.34,"d":9},{"p":20.88,"g":12.05,"d":9},{"p":21.07,"g":12.02,"d":9},{"p":21.2,"g":11.7,"d":9},{"p":21.74,"g":12.14,"d":9},
      {"p":22.14,"g":12.59,"d":9},{"p":22.27,"g":12.53,"d":9},{"p":22.67,"g":12.53,"d":9},{"p":23.07,"g":12.59,"d":9},{"p":23.21,"g":12.27,"d":9},{"p":23.61,"g":12.4,"d":9},{"p":24.01,"g":12.05,"d":9},{"p":24.68,"g":12.08,"d":9},{"p":24.41,"g":12.23,"d":9},{"p":18.8,"g":12.59,"d":9},
      {"p":19.06,"g":12.44,"d":9},{"p":18.4,"g":13.17,"d":9},{"p":19.06,"g":12.95,"d":9},{"p":19.73,"g":12.95,"d":9},{"p":20.13,"g":13.04,"d":9},{"p":20.53,"g":12.91,"d":9},{"p":20.93,"g":12.94,"d":9},{"p":21.47,"g":12.85,"d":9},{"p":22.0,"g":12.98,"d":9},{"p":22.54,"g":12.85,"d":9},
      {"p":22.94,"g":12.91,"d":9},{"p":23.34,"g":12.78,"d":9},{"p":21.2,"g":13.36,"d":9},{"p":20.53,"g":13.46,"d":9},{"p":19.87,"g":13.49,"d":9},{"p":19.2,"g":13.74,"d":9},{"p":19.06,"g":13.94,"d":9},{"p":19.73,"g":13.74,"d":9},{"p":20.13,"g":14.06,"d":9},{"p":19.6,"g":14.19,"d":9},
      {"p":18.8,"g":14.32,"d":9},{"p":18.26,"g":14.57,"d":9},{"p":18.8,"g":14.51,"d":9},{"p":19.46,"g":14.77,"d":9},{"p":20.0,"g":14.51,"d":9},{"p":20.53,"g":14.38,"d":9},{"p":21.07,"g":14.19,"d":9},{"p":21.6,"g":14.13,"d":9},{"p":22.0,"g":13.87,"d":9},{"p":22.67,"g":13.94,"d":9},
      {"p":23.21,"g":13.81,"d":9},{"p":23.61,"g":14.0,"d":9},{"p":24.14,"g":14.06,"d":9},{"p":24.54,"g":14.0,"d":9},{"p":24.94,"g":14.13,"d":9},{"p":25.21,"g":13.94,"d":9},{"p":25.61,"g":13.68,"d":9},{"p":24.68,"g":12.82,"d":9},{"p":24.01,"g":13.49,"d":9},{"p":22.81,"g":13.55,"d":9},
      {"p":21.87,"g":13.68,"d":9},{"p":22.27,"g":13.49,"d":9},{"p":18.8,"g":14.96,"d":9},{"p":18.13,"g":15.21,"d":9},{"p":18.66,"g":15.41,"d":9},{"p":19.2,"g":15.28,"d":9},{"p":19.87,"g":15.53,"d":9},{"p":20.27,"g":15.34,"d":9},{"p":20.93,"g":15.47,"d":9},{"p":21.47,"g":15.73,"d":9},
      {"p":22.0,"g":15.66,"d":9},{"p":22.54,"g":15.53,"d":9},{"p":23.21,"g":15.34,"d":9},{"p":24.14,"g":14.96,"d":9},{"p":24.54,"g":14.89,"d":9},{"p":24.68,"g":15.15,"d":9},{"p":25.35,"g":15.47,"d":9},{"p":23.74,"g":15.85,"d":9},{"p":23.07,"g":15.92,"d":9},{"p":22.27,"g":16.24,"d":9},
      {"p":21.34,"g":16.05,"d":9},{"p":20.67,"g":16.24,"d":9},{"p":20.13,"g":15.98,"d":9},{"p":19.33,"g":16.3,"d":9},{"p":19.87,"g":16.49,"d":9},{"p":20.4,"g":16.56,"d":9},{"p":21.47,"g":16.69,"d":9},{"p":22.41,"g":16.49,"d":9},{"p":23.47,"g":16.37,"d":9},{"p":24.68,"g":16.11,"d":9},
      {"p":25.21,"g":16.62,"d":9},{"p":24.01,"g":16.84,"d":9},{"p":23.34,"g":16.81,"d":9},{"p":22.27,"g":17.13,"d":9},{"p":21.6,"g":17.2,"d":9},{"p":20.93,"g":17.26,"d":9},{"p":20.4,"g":17.07,"d":9},{"p":19.87,"g":17.33,"d":9},{"p":19.46,"g":17.26,"d":9},{"p":18.93,"g":17.65,"d":9},
      {"p":20.8,"g":17.58,"d":9},{"p":22.27,"g":17.45,"d":9},{"p":22.81,"g":17.26,"d":9},{"p":23.21,"g":16.3,"d":9},{"p":20.4,"g":17.97,"d":9},{"p":20.8,"g":18.16,"d":9},{"p":21.2,"g":17.77,"d":9},{"p":20.67,"g":18.54,"d":9},{"p":19.73,"g":18.61,"d":9},{"p":20.8,"g":19.12,"d":9},
      {"p":21.74,"g":18.93,"d":9},{"p":23.21,"g":18.99,"d":9},{"p":21.87,"g":19.57,"d":9},{"p":23.07,"g":19.82,"d":9},{"p":18.26,"g":20.24,"d":9},
      {"p":20.3,"g":3.15,"d":3.1},{"p":20.8,"g":3.3,"d":3.1},{"p":20.2,"g":4.56,"d":3.1},{"p":22.2,"g":4.17,"d":3.1},{"p":20.4,"g":5.57,"d":3.1},{"p":21.6,"g":5.8,"d":3.1},{"p":20.35,"g":6.48,"d":3.1},{"p":20.5,"g":6.67,"d":3.1},{"p":21.25,"g":6.8,"d":3.1},{"p":20.7,"g":7.18,"d":3.1},
      {"p":21.0,"g":7.3,"d":3.1},{"p":21.6,"g":7.26,"d":3.1},{"p":21.1,"g":7.62,"d":3.1},{"p":21.5,"g":7.69,"d":3.1},{"p":21.25,"g":7.92,"d":3.1},{"p":21.6,"g":7.9,"d":3.1},{"p":21.25,"g":8.2,"d":3.1},{"p":20.0,"g":9.1,"d":3.1},{"p":20.3,"g":9.2,"d":3.1},{"p":20.6,"g":9.16,"d":3.1},
      {"p":21.3,"g":9.1,"d":3.1},{"p":21.4,"g":9.66,"d":3.1},{"p":21.9,"g":10.1,"d":3.1},{"p":20.1,"g":10.1,"d":3.1},{"p":22.0,"g":10.5,"d":3.1},{"p":21.3,"g":8.55,"d":3.1},{"p":21.9,"g":8.8,"d":3.1},
      {"p":21.47,"g":11.57,"d":3.1},{"p":21.74,"g":11.72,"d":3.1},{"p":21.74,"g":12.11,"d":3.1},{"p":21.47,"g":12.72,"d":3.1},{"p":21.07,"g":13.17,"d":3.1},{"p":21.6,"g":13.1,"d":3.1},{"p":20.27,"g":13.59,"d":3.1},{"p":20.93,"g":13.55,"d":3.1},{"p":21.47,"g":13.81,"d":3.1},{"p":21.07,"g":14.0,"d":3.1},
      {"p":20.93,"g":14.19,"d":3.1},{"p":21.47,"g":14.32,"d":3.1},{"p":21.74,"g":14.51,"d":3.1},{"p":22.0,"g":14.7,"d":3.1},{"p":21.34,"g":14.77,"d":3.1},{"p":20.8,"g":14.7,"d":3.1},{"p":21.07,"g":15.02,"d":3.1},{"p":21.47,"g":15.15,"d":3.1},{"p":22.0,"g":15.21,"d":3.1},{"p":21.47,"g":15.41,"d":3.1},
      {"p":20.4,"g":14.32,"d":3.1},{"p":21.2,"g":14.38,"d":3.1},{"p":20.4,"g":16.11,"d":3.1},{"p":21.47,"g":16.11,"d":3.1},{"p":21.74,"g":16.3,"d":3.1},{"p":22.0,"g":16.58,"d":3.1},{"p":21.07,"g":16.69,"d":3.1},{"p":19.92,"g":16.56,"d":3.1},{"p":20.93,"g":17.03,"d":3.1},{"p":20.8,"g":17.39,"d":3.1},
      {"p":20.27,"g":18.41,"d":3.1}
    ],
    "mstars": [
      {"p":13.5,"m":34,"d":30},{"p":14.05,"m":40,"d":30},{"p":15.0,"m":32.4,"d":30},{"p":14.2,"m":48.4,"d":30},{"p":14.7,"m":49.5,"d":30},{"p":14.8,"m":46,"d":30},{"p":15.25,"m":41.7,"d":30},{"p":15.5,"m":39.5,"d":30},{"p":15.9,"m":37.3,"d":30},{"p":16.1,"m":36,"d":30},
      {"p":15.2,"m":44.6,"d":30},{"p":15.6,"m":43.5,"d":30},{"p":15.4,"m":42.4,"d":30},{"p":15.8,"m":44,"d":30},{"p":16.0,"m":41.7,"d":30},{"p":15.45,"m":46.2,"d":30},{"p":13.7,"m":53,"d":30},{"p":14.3,"m":55,"d":30},{"p":14.6,"m":56.7,"d":30},{"p":12.8,"m":64,"d":30},
      {"p":13.2,"m":65.4,"d":30},{"p":12.2,"m":70,"d":30},{"p":14.9,"m":53,"d":30},{"p":15.1,"m":55,"d":30},{"p":15.7,"m":51.8,"d":30},{"p":15.9,"m":57.4,"d":30},{"p":15.2,"m":61.8,"d":30},{"p":15.1,"m":64,"d":30},{"p":15.35,"m":66.3,"d":30},{"p":15.1,"m":86,"d":30},
      {"p":15.1,"m":92.7,"d":30},{"p":16.05,"m":101,"d":30},{"p":17.0,"m":47.8,"d":30},{"p":18.45,"m":35.7,"d":30},{"p":16.5,"m":53,"d":30},{"p":21.6,"m":48,"d":30},{"p":21.7,"m":68.5,"d":30},{"p":24.2,"m":72,"d":30},{"p":23.3,"m":79,"d":30},{"p":27.2,"m":93,"d":30},
      {"p":17.55,"m":118.8,"d":30},{"p":17.2,"m":119.5,"d":30},{"p":18.3,"m":121.7,"d":30},{"p":18.65,"m":131,"d":30},{"p":19.0,"m":143,"d":30},{"p":19.5,"m":145,"d":30},{"p":19.8,"m":152.7,"d":30},{"p":20.6,"m":146.7,"d":30},{"p":17.1,"m":170,"d":30},{"p":19.8,"m":170.6,"d":30},
      {"p":21.8,"m":187,"d":30},{"p":22.3,"m":178,"d":30},{"p":22.4,"m":182,"d":30},{"p":22.7,"m":184,"d":30},{"p":22.3,"m":192,"d":30},{"p":23.0,"m":194,"d":30},{"p":23.0,"m":197,"d":30},{"p":24.0,"m":192.5,"d":30},{"p":23.4,"m":171,"d":30},{"p":23.6,"m":175,"d":30},
      {"p":25.4,"m":194.5,"d":30},{"p":25.3,"m":197,"d":30},{"p":24.5,"m":203.7,"d":30},{"p":24.5,"m":206,"d":30},{"p":25.8,"m":203,"d":30},{"p":25.9,"m":211,"d":30},{"p":25.7,"m":217.5,"d":30},{"p":24.0,"m":217,"d":30},{"p":26.8,"m":222,"d":30},{"p":27.7,"m":205,"d":30},
      {"p":27.4,"m":242,"d":30},{"p":28.3,"m":249.5,"d":30},{"p":28.5,"m":225,"d":30},{"p":29.7,"m":225,"d":30},{"p":30.2,"m":224.5,"d":30},{"p":31.4,"m":226,"d":30},{"p":31.4,"m":230,"d":30},{"p":31.2,"m":233,"d":30},{"p":30.8,"m":233,"d":30},{"p":30.65,"m":236.5,"d":30},
      {"p":30.6,"m":239,"d":30},{"p":31.3,"m":238,"d":30},{"p":31.7,"m":274,"d":30},{"p":33.5,"m":214,"d":30},{"p":34.1,"m":211,"d":30},{"p":34.7,"m":214.6,"d":30},{"p":35.3,"m":221,"d":30},{"p":35.9,"m":208,"d":30},{"p":34.5,"m":294,"d":30},{"p":36.5,"m":153,"d":30},
      {"p":39.9,"m":183,"d":30},{"p":41.1,"m":259.5,"d":30},{"p":44.1,"m":261,"d":30},{"p":42.0,"m":328.5,"d":30},{"p":26.5,"m":152,"d":30},{"p":28.1,"m":141,"d":30},{"p":28.5,"m":160,"d":30},{"p":29.9,"m":168,"d":30},{"p":25.3,"m":128,"d":30},{"p":26.0,"m":103,"d":30},
      {"p":17.9,"m":104,"d":30},{"p":24.9,"m":137,"d":30},{"p":22.6,"m":70,"d":30},
      {"p":21.0,"m":43,"d":18},{"p":24.2,"m":50,"d":18},{"p":21.1,"m":62,"d":18},{"p":22.2,"m":62.5,"d":18},{"p":16.2,"m":57,"d":18},{"p":17.2,"m":52,"d":18},{"p":17.7,"m":54,"d":18},{"p":18.0,"m":54,"d":18},{"p":18.4,"m":51.6,"d":18},{"p":19.0,"m":54.5,"d":18},
      {"p":19.45,"m":57,"d":18},{"p":19.1,"m":60.7,"d":18},{"p":15.38,"m":63,"d":18},{"p":16.0,"m":68.5,"d":18},{"p":16.4,"m":69.7,"d":18},{"p":16.8,"m":67.4,"d":18},{"p":17.6,"m":65.2,"d":18},{"p":18.0,"m":64,"d":18},{"p":18.6,"m":68.5,"d":18},{"p":18.7,"m":72,"d":18},
      {"p":19.6,"m":66.8,"d":18},{"p":20.0,"m":65.6,"d":18},{"p":15.6,"m":75,"d":18},{"p":15.8,"m":78.6,"d":18},{"p":16.2,"m":77.5,"d":18},{"p":16.5,"m":76.4,"d":18},{"p":16.9,"m":79.7,"d":18},{"p":17.4,"m":73,"d":18},{"p":18.1,"m":75.2,"d":18},{"p":18.3,"m":74,"d":18},
      {"p":19.0,"m":74.6,"d":18},{"p":15.9,"m":85.3,"d":18},{"p":16.2,"m":86.4,"d":18},{"p":16.7,"m":87,"d":18},{"p":17.05,"m":85.3,"d":18},{"p":17.7,"m":82.6,"d":18},{"p":18.4,"m":82,"d":18},{"p":17.8,"m":88.6,"d":18},{"p":17.2,"m":92,"d":18},{"p":16.4,"m":106.5,"d":18},
      {"p":16.5,"m":108.3,"d":18},{"p":17.4,"m":107.6,"d":18},{"p":17.7,"m":102,"d":18},{"p":18.5,"m":101,"d":18},{"p":16.9,"m":100.5,"d":18},{"p":18.75,"m":107.6,"d":18},{"p":18.2,"m":112,"d":18},{"p":19.3,"m":120,"d":18},{"p":19.0,"m":122,"d":18},{"p":19.7,"m":127,"d":18},
      {"p":20.3,"m":128,"d":18},{"p":20.6,"m":139,"d":18},{"p":20.6,"m":141,"d":18},{"p":21.1,"m":141,"d":18},{"p":21.4,"m":139,"d":18},{"p":22.1,"m":146,"d":18},{"p":22.5,"m":149,"d":18},{"p":23.2,"m":149,"d":18},{"p":23.3,"m":144.5,"d":18},{"p":24.0,"m":152.5,"d":18},
      {"p":24.1,"m":155.6,"d":18},{"p":24.4,"m":149.4,"d":18},{"p":24.9,"m":145,"d":18},{"p":23.6,"m":158,"d":18},{"p":23.8,"m":161,"d":18},{"p":24.0,"m":162,"d":18},{"p":24.5,"m":160,"d":18},{"p":24.6,"m":162,"d":18},{"p":24.3,"m":166,"d":18},{"p":23.55,"m":165.5,"d":18},
      {"p":23.1,"m":155.6,"d":18},{"p":22.9,"m":152.3,"d":18},{"p":23.7,"m":179.5,"d":18},{"p":23.9,"m":168,"d":18},{"p":21.8,"m":168.6,"d":18},{"p":22.9,"m":168.6,"d":18},{"p":26.2,"m":85.3,"d":18},{"p":26.3,"m":95.3,"d":18},{"p":26.3,"m":118.8,"d":18},{"p":27.0,"m":139,"d":18},
      {"p":26.7,"m":144,"d":18},{"p":26.8,"m":149,"d":18},{"p":27.1,"m":155,"d":18},{"p":27.6,"m":155.6,"d":18},{"p":27.9,"m":152,"d":18},{"p":28.3,"m":148,"d":18},{"p":28.9,"m":146,"d":18},{"p":28.9,"m":160.6,"d":18},{"p":28.65,"m":173,"d":18},{"p":28.6,"m":177,"d":18},
      {"p":26.8,"m":179,"d":18},{"p":26.7,"m":183,"d":18},{"p":27.2,"m":175.8,"d":18},{"p":27.6,"m":173,"d":18},{"p":27.4,"m":182.5,"d":18},{"p":27.8,"m":181,"d":18},{"p":28.0,"m":191,"d":18},{"p":27.8,"m":192,"d":18},{"p":26.4,"m":192,"d":18},{"p":26.4,"m":199,"d":18},
      {"p":30.3,"m":197,"d":18},{"p":30.1,"m":176,"d":18},{"p":25.4,"m":98.7,"d":18},{"p":25.5,"m":92.4,"d":18},{"p":24.4,"m":99.8,"d":18},{"p":23.0,"m":97.6,"d":18},{"p":24.4,"m":105,"d":18},{"p":24.9,"m":107.6,"d":18},{"p":24.9,"m":120,"d":18},{"p":24.7,"m":124,"d":18},
      {"p":24.7,"m":132,"d":18},{"p":24.8,"m":139,"d":18},{"p":25.3,"m":140,"d":18},{"p":25.2,"m":135.5,"d":18},{"p":25.25,"m":130,"d":18},{"p":23.0,"m":64,"d":18},{"p":23.3,"m":79.7,"d":18},{"p":23.3,"m":72,"d":18},{"p":24.9,"m":77.5,"d":18},{"p":24.4,"m":87,"d":18},
      {"p":24.4,"m":92.4,"d":18},
      {"p":19.71,"m":69.9,"d":9},{"p":20.11,"m":72.3,"d":9},{"p":19.24,"m":74.1,"d":9},{"p":19.53,"m":73.2,"d":9},{"p":21.75,"m":76.5,"d":9},{"p":20.82,"m":82.0,"d":9},{"p":21.61,"m":82.4,"d":9},{"p":22.27,"m":82.7,"d":9},{"p":22.8,"m":79.1,"d":9},{"p":23.52,"m":88.2,"d":9},
      {"p":24.33,"m":86.4,"d":9},{"p":18.52,"m":82.4,"d":9},{"p":18.37,"m":86.0,"d":9},{"p":18.84,"m":88.8,"d":9},{"p":19.32,"m":82.4,"d":9},{"p":19.63,"m":85.7,"d":9},{"p":20.16,"m":87.9,"d":9},{"p":20.64,"m":89.7,"d":9},{"p":21.09,"m":87.9,"d":9},{"p":21.35,"m":90.6,"d":9},
      {"p":21.88,"m":88.8,"d":9},{"p":22.27,"m":87.9,"d":9},{"p":22.67,"m":90.6,"d":9},{"p":23.07,"m":89.7,"d":9},{"p":23.33,"m":93.3,"d":9},{"p":23.6,"m":97.0,"d":9},{"p":23.07,"m":99.7,"d":9},{"p":22.54,"m":95.2,"d":9},{"p":22.01,"m":94.3,"d":9},{"p":21.48,"m":95.2,"d":9},
      {"p":20.95,"m":93.3,"d":9},{"p":20.42,"m":94.3,"d":9},{"p":19.9,"m":91.5,"d":9},{"p":19.37,"m":92.4,"d":9},{"p":18.97,"m":95.2,"d":9},{"p":19.1,"m":97.9,"d":9},{"p":19.63,"m":98.8,"d":9},{"p":20.16,"m":100.6,"d":9},{"p":20.69,"m":97.9,"d":9},{"p":21.22,"m":99.7,"d":9},
      {"p":21.75,"m":101.6,"d":9},{"p":22.27,"m":100.6,"d":9},{"p":22.8,"m":102.5,"d":9},{"p":23.33,"m":104.3,"d":9},{"p":23.86,"m":100.6,"d":9},{"p":24.52,"m":104.3,"d":9},{"p":24.39,"m":109.8,"d":9},{"p":23.99,"m":113.4,"d":9},{"p":23.33,"m":113.4,"d":9},{"p":22.8,"m":112.5,"d":9},
      {"p":22.41,"m":109.8,"d":9},{"p":21.88,"m":108.0,"d":9},{"p":21.35,"m":109.8,"d":9},{"p":20.82,"m":108.9,"d":9},{"p":20.29,"m":108.0,"d":9},{"p":19.77,"m":106.1,"d":9},{"p":19.37,"m":104.3,"d":9},{"p":18.84,"m":108.9,"d":9},{"p":19.63,"m":111.6,"d":9},{"p":20.16,"m":114.4,"d":9},
      {"p":20.69,"m":115.3,"d":9},{"p":21.22,"m":117.1,"d":9},{"p":21.75,"m":114.4,"d":9},{"p":22.27,"m":116.2,"d":9},{"p":22.8,"m":117.1,"d":9},{"p":23.33,"m":118.9,"d":9},{"p":23.86,"m":118.9,"d":9},{"p":24.26,"m":122.6,"d":9},{"p":23.73,"m":123.5,"d":9},{"p":23.33,"m":127.2,"d":9},
      {"p":22.94,"m":129.9,"d":9},{"p":22.54,"m":126.2,"d":9},{"p":22.01,"m":124.4,"d":9},{"p":21.48,"m":123.5,"d":9},{"p":20.95,"m":122.6,"d":9},{"p":20.56,"m":120.8,"d":9},{"p":21.75,"m":129.0,"d":9},{"p":22.14,"m":131.7,"d":9},{"p":22.8,"m":133.6,"d":9},{"p":23.07,"m":137.2,"d":9},
      {"p":23.46,"m":140.0,"d":9},{"p":23.86,"m":141.8,"d":9},{"p":24.65,"m":142.7,"d":9},{"p":24.52,"m":138.1,"d":9},{"p":25.05,"m":135.4,"d":9},{"p":25.31,"m":137.2,"d":9},{"p":25.6,"m":119.8,"d":9},{"p":24.92,"m":115.3,"d":9},{"p":24.92,"m":109.8,"d":9},{"p":19.6,"m":70.8,"d":9},
      {"p":22.5,"m":74,"d":9},{"p":24.5,"m":99,"d":9},{"p":24.4,"m":142,"d":9},{"p":23.0,"m":146.7,"d":9},{"p":25.2,"m":140,"d":9},
      {"p":20.69,"m":102.5,"d":3.1},{"p":21.0,"m":100.6,"d":3.1},{"p":21.22,"m":104.3,"d":3.1},{"p":20.82,"m":106.1,"d":3.1},{"p":21.09,"m":108,"d":3.1},{"p":21.48,"m":108.9,"d":3.1},{"p":21.75,"m":106.1,"d":3.1},{"p":21.43,"m":111.6,"d":3.1},{"p":21.75,"m":112.5,"d":3.1},{"p":22.01,"m":110.7,"d":3.1},
      {"p":21.35,"m":114.4,"d":3.1},{"p":21.88,"m":115.3,"d":3.1},{"p":20.56,"m":99.7,"d":3.1},{"p":20.9,"m":110.7,"d":3.1},{"p":20.42,"m":109.8,"d":3.1},{"p":21.61,"m":102.5,"d":3.1},{"p":22.27,"m":113.4,"d":3.1},{"p":21.22,"m":97.9,"d":3.1},{"p":22.01,"m":117.1,"d":3.1},{"p":21.09,"m":112.5,"d":3.1}
    ]
  },
  "hconcat": [
    {
      "width": 561,
      "height": 585,
      "encoding": {
        "x": {"field": "p", "type": "quantitative", "title": "parallax (mas)",
              "scale": {"domain": [5, 50], "nice": false, "zero": false},
              "axis": {"values": [5, 10, 15, 20, 25, 30, 35, 40, 45, 50]}},
        "y": {"field": "g", "type": "quantitative", "title": "G",
              "scale": {"domain": [-1.5, 21], "reverse": true, "nice": false, "zero": false},
              "axis": {"values": [0, 2.5, 5, 7.5, 10, 12.5, 15, 17.5, 20], "format": ".1f", "titleFontStyle": "italic"}}
      },
      "layer": [
        {
          "data": {"name": "gbg"},
          "mark": {"type": "rect", "strokeWidth": 1, "clip": true},
          "encoding": {
            "x2": {"field": "p2"},
            "y2": {"field": "g2"},
            "fill": {"field": "v", "type": "quantitative", "scale": {"domain": [0, 1], "range": ["#ffffff", "#808080"]}, "legend": null},
            "stroke": {"field": "v", "type": "quantitative", "scale": {"domain": [0, 1], "range": ["#ffffff", "#808080"]}, "legend": null}
          }
        },
        {
          "data": {"name": "gstars"},
          "mark": {"type": "circle", "size": 42, "opacity": 1, "clip": true},
          "encoding": {
            "color": {"datum": "Candidates: 30 pc", "type": "nominal",
              "scale": {"domain": ["Candidates: 30 pc", "Candidates: 18 pc", "Candidates: 9 pc", "Candidates: 3.1 pc"], "range": ["#ff0000", "#008000", "#0000ff", "#bfbf00"]},
              "legend": {"orient": "top-right", "title": null, "offset": 7, "fillColor": "#ffffff", "strokeColor": "#d0d0d0", "cornerRadius": 3, "padding": 7, "labelFontSize": 15, "labelColor": "#000000", "rowPadding": 7, "symbolType": "circle", "symbolStrokeWidth": 0, "symbolSize": 40, "symbolOffset": 10, "labelOffset": 24,
                "encode": {"symbols": {"update": {"size": {"signal": "datum.value === 'Candidates: 30 pc' ? 40 : datum.value === 'Candidates: 18 pc' ? 22 : datum.value === 'Candidates: 9 pc' ? 14 : 5"}}}}}}
          }
        },
        {
          "data": {"name": "gstars"},
          "transform": [{"filter": "datum.d <= 18"}],
          "mark": {"type": "circle", "size": 27, "opacity": 1, "clip": true},
          "encoding": {"color": {"datum": "Candidates: 18 pc", "type": "nominal"}}
        },
        {
          "data": {"name": "gstars"},
          "transform": [{"filter": "datum.d <= 9"}],
          "mark": {"type": "circle", "size": 23, "opacity": 1, "clip": true},
          "encoding": {"color": {"datum": "Candidates: 9 pc", "type": "nominal"}}
        },
        {
          "data": {"name": "gstars"},
          "transform": [{"filter": "datum.d <= 3.1"}],
          "mark": {"type": "circle", "size": 7, "opacity": 1, "clip": true},
          "encoding": {"color": {"datum": "Candidates: 3.1 pc", "type": "nominal"}}
        }
      ]
    },
    {
      "width": 568,
      "height": 585,
      "encoding": {
        "x": {"field": "p", "type": "quantitative", "title": "parallax (mas)",
              "scale": {"domain": [5, 50], "nice": false, "zero": false},
              "axis": {"values": [5, 10, 15, 20, 25, 30, 35, 40, 45, 50]}},
        "y": {"field": "m", "type": "quantitative", "title": "Total Proper Motion (mas/yr)",
              "scale": {"domain": [29, 350], "reverse": true, "nice": false, "zero": false},
              "axis": {"values": [50, 100, 150, 200, 250, 300, 350], "titlePadding": 7}}
      },
      "layer": [
        {
          "data": {"name": "mbg"},
          "mark": {"type": "rect", "strokeWidth": 1, "clip": true},
          "encoding": {
            "x2": {"field": "p2"},
            "y2": {"field": "m2"},
            "fill": {"field": "v", "type": "quantitative", "scale": {"domain": [0, 1], "range": ["#ffffff", "#808080"]}, "legend": null},
            "stroke": {"field": "v", "type": "quantitative", "scale": {"domain": [0, 1], "range": ["#ffffff", "#808080"]}, "legend": null}
          }
        },
        {
          "data": {"name": "mstars"},
          "mark": {"type": "circle", "size": 42, "opacity": 1, "clip": true},
          "encoding": {
            "color": {"datum": "Candidates: 30 pc", "type": "nominal",
              "scale": {"domain": ["Candidates: 30 pc", "Candidates: 18 pc", "Candidates: 9 pc", "Candidates: 3.1 pc"], "range": ["#ff0000", "#008000", "#0000ff", "#bfbf00"]},
              "legend": {"orient": "top-right", "title": null, "offset": 7, "fillColor": "#ffffff", "strokeColor": "#d0d0d0", "cornerRadius": 3, "padding": 7, "labelFontSize": 15, "labelColor": "#000000", "rowPadding": 7, "symbolType": "circle", "symbolStrokeWidth": 0, "symbolSize": 40, "symbolOffset": 10, "labelOffset": 24,
                "encode": {"symbols": {"update": {"size": {"signal": "datum.value === 'Candidates: 30 pc' ? 40 : datum.value === 'Candidates: 18 pc' ? 22 : datum.value === 'Candidates: 9 pc' ? 14 : 5"}}}}}}
          }
        },
        {
          "data": {"name": "mstars"},
          "transform": [{"filter": "datum.d <= 18"}],
          "mark": {"type": "circle", "size": 27, "opacity": 1, "clip": true},
          "encoding": {"color": {"datum": "Candidates: 18 pc", "type": "nominal"}}
        },
        {
          "data": {"name": "mstars"},
          "transform": [{"filter": "datum.d <= 9"}],
          "mark": {"type": "circle", "size": 23, "opacity": 1, "clip": true},
          "encoding": {"color": {"datum": "Candidates: 9 pc", "type": "nominal"}}
        },
        {
          "data": {"name": "mstars"},
          "transform": [{"filter": "datum.d <= 3.1"}],
          "mark": {"type": "circle", "size": 7, "opacity": 1, "clip": true},
          "encoding": {"color": {"datum": "Candidates: 3.1 pc", "type": "nominal"}}
        }
      ]
    }
  ]
}
